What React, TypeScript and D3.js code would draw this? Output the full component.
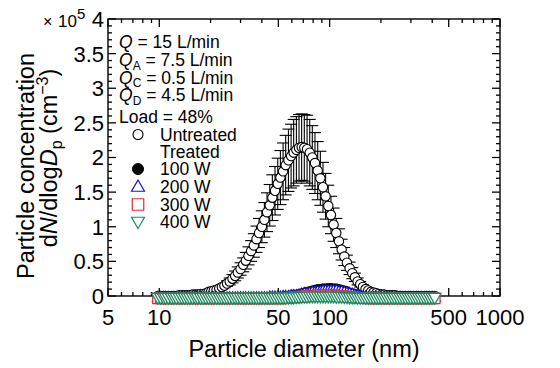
import React from "react";
import * as d3 from "d3";

// Particle diameters (nm), SMPS channels
const diameters = [
  9.82, 10.2, 10.6, 10.9, 11.3, 11.8, 12.2, 12.6, 13.1, 13.6, 14.1, 14.6, 15.1, 15.7, 16.3, 16.8, 17.5, 18.1, 18.8, 19.5,
  20.2, 20.9, 21.7, 22.5, 23.3, 24.1, 25.0, 25.9, 26.9, 27.9, 28.9, 30.0, 31.1, 32.2, 33.4, 34.6, 35.9, 37.2, 38.5, 40.0,
  41.4, 42.9, 44.5, 46.1, 47.8, 49.6, 51.4, 53.3, 55.2, 57.3, 59.4, 61.5, 63.8, 66.1, 68.5, 71.0, 73.7, 76.4, 79.1, 82.0,
  85.1, 88.2, 91.4, 94.7, 98.2, 101.8, 105.5, 109.4, 113.4, 117.6, 121.9, 126.3, 131.0, 135.8, 140.7, 145.9, 151.2, 156.8, 162.5, 168.5,
  174.7, 181.1, 187.7, 194.6, 201.7, 209.1, 216.7, 224.7, 232.9, 241.4, 250.3, 259.5, 269.0, 278.8, 289.0, 299.6, 310.6, 322.0, 333.8, 346.0,
  358.7, 371.8, 385.4, 399.5, 414.2,
];

// Concentrations in units of 1e5 cm^-3
const untreated = [
  0, 0, 0, 0, 0, 0, 0, 0, 0.01, 0.01, 0.01, 0.01, 0.01, 0.02, 0.02, 0.02, 0.03, 0.03, 0.04,
  0.06, 0.07, 0.08, 0.09, 0.11, 0.13, 0.15, 0.18, 0.21, 0.25, 0.29, 0.34, 0.39, 0.45, 0.51, 0.58, 0.65, 0.73, 0.82, 0.91,
  1.00, 1.10, 1.21, 1.31, 1.42, 1.52, 1.62, 1.71, 1.80, 1.89, 1.96, 2.02, 2.07, 2.11, 2.14, 2.15, 2.14, 2.12, 2.07, 2.00,
  1.92, 1.81, 1.70, 1.57, 1.44, 1.30, 1.17, 1.03, 0.91, 0.79, 0.67, 0.57, 0.48, 0.40, 0.33, 0.27, 0.21, 0.17, 0.13, 0.10,
  0.08, 0.06, 0.05, 0.04, 0.03,
  0.02, 0.02, 0.01, 0.01, 0.01, 0.01, 0, 0, 0, 0, 0, 0, 0, 0, 0, 0, 0, 0, 0, 0, 0,
];

const untreatedErr = [
  0, 0, 0, 0, 0, 0, 0, 0, 0, 0, 0, 0, 0, 0, 0, 0, 0, 0, 0,
  0.01, 0.02, 0.02, 0.02, 0.03, 0.03, 0.03, 0.04, 0.05, 0.06, 0.07, 0.08, 0.09, 0.10, 0.12, 0.13, 0.15, 0.17, 0.19, 0.21,
  0.23, 0.25, 0.28, 0.30, 0.33, 0.35, 0.37, 0.39, 0.41, 0.43, 0.45, 0.46, 0.48, 0.48, 0.48, 0.48, 0.48, 0.49, 0.48, 0.46,
  0.44, 0.42, 0.39, 0.36, 0.33, 0.30, 0.27, 0.24, 0.21, 0.18, 0.15, 0.13, 0.11, 0.09, 0.08, 0.06, 0.05, 0.04, 0.03, 0.02,
  0.02, 0.01, 0.01, 0.01, 0.01,
  0, 0, 0, 0, 0, 0, 0, 0, 0, 0, 0, 0, 0, 0, 0, 0, 0, 0, 0, 0, 0,
];

const treated100W = [
  -0.03, -0.03, -0.03, -0.03, -0.03, -0.03, -0.03, -0.03, -0.03, -0.03, -0.03, -0.03, -0.03, -0.03, -0.03, -0.03, -0.03, -0.03, -0.03, -0.03,
  -0.03, -0.03, -0.03, -0.03, -0.03, -0.03, -0.03, -0.03, -0.03, -0.03, -0.03, -0.03, -0.03, -0.03, -0.03, -0.03, -0.03, -0.03, -0.03, -0.03,
  -0.03, -0.03, -0.02, -0.02, -0.02, -0.02, -0.01, -0.01, 0, 0, 0.01, 0.02, 0.02, 0.03, 0.04, 0.05, 0.06, 0.07, 0.08, 0.09,
  0.10, 0.10, 0.11, 0.11, 0.115, 0.115, 0.11, 0.11, 0.10, 0.09, 0.08, 0.07, 0.05, 0.04, 0.03, 0.01, 0, -0.01, -0.015, -0.02,
  -0.025, -0.03, -0.03, -0.03, -0.03, -0.03, -0.03, -0.03, -0.03, -0.03, -0.03, -0.03, -0.03, -0.03, -0.03, -0.03, -0.03, -0.03, -0.03, -0.03,
  -0.03, -0.03, -0.03, -0.03, -0.03,
];

const treated200W = [
  -0.03, -0.03, -0.03, -0.03, -0.03, -0.03, -0.03, -0.03, -0.03, -0.03, -0.03, -0.03, -0.03, -0.03, -0.03, -0.03, -0.03, -0.03, -0.03, -0.03,
  -0.03, -0.03, -0.03, -0.03, -0.03, -0.03, -0.03, -0.03, -0.03, -0.03, -0.03, -0.03, -0.03, -0.03, -0.03, -0.03, -0.03, -0.03, -0.03, -0.03,
  -0.03, -0.03, -0.02, -0.02, -0.02, -0.02, -0.02, -0.01, -0.01, -0.01, 0, 0, 0, 0.01, 0.02, 0.03, 0.03, 0.04, 0.05, 0.05,
  0.06, 0.06, 0.07, 0.07, 0.07, 0.07, 0.07, 0.07, 0.06, 0.06, 0.05, 0.04, 0.03, 0.02, 0.01, 0, -0.01, -0.02, -0.02, -0.03,
  -0.03, -0.03, -0.03, -0.03, -0.03, -0.03, -0.03, -0.03, -0.03, -0.03, -0.03, -0.03, -0.03, -0.03, -0.03, -0.03, -0.03, -0.03, -0.03, -0.03,
  -0.03, -0.03, -0.03, -0.03, -0.03,
];

const treated300W = [
  -0.033, -0.033, -0.033, -0.033, -0.033, -0.033, -0.033, -0.033, -0.033, -0.033, -0.033, -0.033, -0.033, -0.033, -0.033, -0.033,
  -0.033, -0.033, -0.033, -0.033, -0.033, -0.033, -0.033, -0.033, -0.033, -0.033, -0.033, -0.033, -0.033, -0.033, -0.033, -0.033,
  -0.033, -0.033, -0.033, -0.033, -0.033, -0.033, -0.033, -0.033, -0.033, -0.033, -0.033, -0.033, -0.033, -0.033, -0.033, -0.033,
  -0.03, -0.03, -0.02, -0.02, -0.02, -0.01, -0.01, -0.01, 0, 0, 0, 0.005, 0.01, 0.01, 0.01, 0.01, 0.01, 0.01, 0.01, 0.005,
  0, 0, -0.01, -0.01, -0.015, -0.02, -0.02, -0.025, -0.03, -0.03, -0.03, -0.033,
  -0.033, -0.033, -0.033, -0.033, -0.033, -0.033, -0.033, -0.033, -0.033, -0.033, -0.033, -0.033, -0.033, -0.033, -0.033, -0.033,
  -0.033, -0.033, -0.033, -0.033, -0.033, -0.033, -0.033, -0.033, -0.033,
];

const treated400W = [
  -0.015, -0.015, -0.015, -0.015, -0.015, -0.015, -0.015, -0.015, -0.015, -0.015, -0.015, -0.015, -0.015, -0.015, -0.015, -0.015,
  -0.015, -0.015, -0.015, -0.015, -0.015, -0.015, -0.015, -0.015, -0.015, -0.015, -0.015, -0.015, -0.015, -0.015, -0.015, -0.015,
  -0.015, -0.015, -0.015, -0.015, -0.015, -0.015, -0.015, -0.015, -0.015, -0.015, -0.015, -0.015, -0.015, -0.015, -0.015, -0.015,
  -0.015, -0.01, -0.01, -0.01, -0.005, -0.005, 0, 0, 0, 0.005, 0.005, 0.005, 0.005, 0.005, 0.005, 0.005, 0.005, 0.005, 0.005, 0,
  0, 0, -0.005, -0.005, -0.01, -0.01, -0.01, -0.015, -0.015, -0.015, -0.015, -0.015,
  -0.015, -0.015, -0.015, -0.015, -0.015, -0.015, -0.015, -0.015, -0.015, -0.015, -0.015, -0.015, -0.015, -0.015, -0.015, -0.015,
  -0.015, -0.015, -0.015, -0.015, -0.015, -0.015, -0.015, -0.015, -0.015,
];

const xTickValues = [5, 10, 50, 100, 500, 1000];
const xTickLabels = ["5", "10", "50", "100", "500", "1000"];
const xMinorValues = [6, 7, 8, 9, 20, 30, 40, 60, 70, 80, 90, 200, 300, 400, 600, 700, 800, 900];
const yTickValues = [0, 0.5, 1, 1.5, 2, 2.5, 3, 3.5, 4];
const yTickLabels = ["0", "0.5", "1", "1.5", "2", "2.5", "3", "3.5", "4"];

const legendLabels = ["Untreated", "Treated", "100 W", "200 W", "300 W", "400 W"];
const COLORS = { w100: "#000000", w200: "#1414d2", w300: "#e0283c", w400: "#1e8a60" };

const FONT = "'Liberation Sans', Arial, Helvetica, sans-serif";

const W = 560;
const H = 368;
const L = 108, R = 500, T = 19, B = 296;

function circlePath(cx: number, cy: number, r: number) {
  const p = d3.path();
  p.arc(cx, cy, r, 0, Math.PI * 2);
  p.closePath();
  return p.toString();
}
function triUp(cx: number, cy: number, s: number) {
  const h = (s * Math.sqrt(3)) / 2;
  const p = d3.path();
  p.moveTo(cx, cy - (2 * h) / 3);
  p.lineTo(cx + s / 2, cy + h / 3);
  p.lineTo(cx - s / 2, cy + h / 3);
  p.closePath();
  return p.toString();
}
function triDown(cx: number, cy: number, s: number) {
  const h = (s * Math.sqrt(3)) / 2;
  const p = d3.path();
  p.moveTo(cx, cy + (2 * h) / 3);
  p.lineTo(cx + s / 2, cy - h / 3);
  p.lineTo(cx - s / 2, cy - h / 3);
  p.closePath();
  return p.toString();
}
function squarePath(cx: number, cy: number, s: number) {
  const p = d3.path();
  p.rect(cx - s / 2, cy - s / 2, s, s);
  return p.toString();
}

export default function App() {
  const x = d3.scaleLog().domain([5, 1000]).range([L, R]);
  const y = d3.scaleLinear().domain([0, 4]).range([B, T]);
  const yMinor = d3.range(0, 41).map((k) => k / 10).filter((v) => Math.abs(v * 2 - Math.round(v * 2)) > 1e-6);

  const majorLen = 8;
  const minorLen = 4;
  const capHalf = 6;

  const legendX = 138;
  const legendTextX = 160;
  const legendY = [134.5, 151.5, 169, 186.5, 204.5, 222];

  return (
    <svg width={W} height={H} style={{ position: "absolute", left: 0, top: 0, background: "#fff" }} fontFamily={FONT}>
      <rect x={0} y={0} width={W} height={H} fill="#fff" />
      {/* ticks */}
      <g stroke="#000" strokeWidth={1.3}>
        {yTickValues.map((v, i) => (
          <g key={"yt" + i}>
            <line x1={L} x2={L + majorLen} y1={y(v)} y2={y(v)} />
            <line x1={R} x2={R - majorLen} y1={y(v)} y2={y(v)} />
          </g>
        ))}
        {yMinor.map((v, i) => (
          <g key={"ym" + i}>
            <line x1={L} x2={L + minorLen} y1={y(v)} y2={y(v)} />
            <line x1={R} x2={R - minorLen} y1={y(v)} y2={y(v)} />
          </g>
        ))}
        {xTickValues.map((v, i) => (
          <g key={"xt" + i}>
            <line x1={x(v)} x2={x(v)} y1={B} y2={B - majorLen} />
            <line x1={x(v)} x2={x(v)} y1={T} y2={T + majorLen} />
          </g>
        ))}
        {xMinorValues.map((v, i) => (
          <g key={"xm" + i}>
            <line x1={x(v)} x2={x(v)} y1={B} y2={B - minorLen} />
            <line x1={x(v)} x2={x(v)} y1={T} y2={T + minorLen} />
          </g>
        ))}
      </g>
      <rect x={L} y={T} width={R - L} height={B - T} fill="none" stroke="#000" strokeWidth={1.4} />

      {/* tick labels */}
      <g fontSize={22} fill="#000">
        {yTickValues.map((v, i) => (
          <text key={"yl" + i} x={L - 4} y={y(v)} dy="0.36em" textAnchor="end">
            {yTickLabels[i]}
          </text>
        ))}
        {xTickValues.map((v, i) => (
          <text key={"xl" + i} x={x(v)} y={B + 29} textAnchor="middle">
            {xTickLabels[i]}
          </text>
        ))}
      </g>
      <text x={43} y={27} fontSize={16}>
        ×
      </text>
      <text x={58} y={27} fontSize={17}>
        10<tspan dy={-8} fontSize={15}>5</tspan>
      </text>

      {/* error bars */}
      <g stroke="#000" strokeWidth={1.1}>
        {diameters.map((d, i) =>
          untreatedErr[i] > 0 ? (
            <g key={"eb" + i}>
              <line x1={x(d)} x2={x(d)} y1={y(untreated[i] - untreatedErr[i])} y2={y(untreated[i] + untreatedErr[i])} />
              <line x1={x(d) - capHalf} x2={x(d) + capHalf} y1={y(untreated[i] + untreatedErr[i])} y2={y(untreated[i] + untreatedErr[i])} />
              <line x1={x(d) - capHalf} x2={x(d) + capHalf} y1={y(untreated[i] - untreatedErr[i])} y2={y(untreated[i] - untreatedErr[i])} />
            </g>
          ) : null
        )}
      </g>
      {/* untreated */}
      <g stroke="#000" strokeWidth={1.1} fill="#fff">
        {diameters.map((d, i) => (
          <path key={"u" + i} d={circlePath(x(d), y(untreated[i]), 4.7)} />
        ))}
      </g>
      {/* 100 W */}
      <g stroke={COLORS.w100} strokeWidth={1} fill={COLORS.w100}>
        {diameters.map((d, i) => (
          <path key={"a" + i} d={circlePath(x(d), y(treated100W[i]), 4.5)} />
        ))}
      </g>
      {/* 200 W */}
      <g stroke={COLORS.w200} strokeWidth={1.2} fill="#fff">
        {diameters.map((d, i) => (
          <path key={"b" + i} d={triUp(x(d), y(treated200W[i]), 11)} />
        ))}
      </g>
      {/* 300 W */}
      <g stroke={COLORS.w300} strokeWidth={1.2} fill="#fff">
        {diameters.map((d, i) => (
          <path key={"c" + i} d={squarePath(x(d), y(treated300W[i]), 10.5)} />
        ))}
      </g>
      {/* 400 W */}
      <g stroke={COLORS.w400} strokeWidth={1.3} fill="#fff">
        {diameters.map((d, i) => (
          <path key={"e" + i} d={triDown(x(d), y(treated400W[i]), 12.5)} />
        ))}
      </g>

      {/* annotation */}
      <g fontSize={17.5} fill="#000">
        <text x={119} y={48}>
          <tspan fontStyle="italic">Q</tspan> = 15 L/min
        </text>
        <text x={119} y={66}>
          <tspan fontStyle="italic">Q</tspan>
          <tspan dy={3.5} fontSize={12}>A</tspan>
          <tspan dy={-3.5}> = 7.5 L/min</tspan>
        </text>
        <text x={119} y={83.5}>
          <tspan fontStyle="italic">Q</tspan>
          <tspan dy={3.5} fontSize={12}>C</tspan>
          <tspan dy={-3.5}> = 0.5 L/min</tspan>
        </text>
        <text x={119} y={101}>
          <tspan fontStyle="italic">Q</tspan>
          <tspan dy={3.5} fontSize={12}>D</tspan>
          <tspan dy={-3.5}> = 4.5 L/min</tspan>
        </text>
        <text x={119} y={123}>Load = 48%</text>
        {legendLabels.map((lab, i) => (
          <text key={"lg" + i} x={legendTextX} y={legendY[i] + 6.3}>
            {lab}
          </text>
        ))}
      </g>
      <path d={circlePath(legendX, legendY[0], 5)} fill="#fff" stroke="#000" strokeWidth={1.1} />
      <path d={circlePath(legendX, legendY[2], 5.5)} fill="#000" stroke="#000" strokeWidth={1} />
      <path d={triUp(legendX, legendY[3] + 1, 13)} fill="#fff" stroke={COLORS.w200} strokeWidth={1.2} />
      <path d={squarePath(legendX, legendY[4], 11.5)} fill="#fff" stroke={COLORS.w300} strokeWidth={1.2} />
      <path d={triDown(legendX, legendY[5] - 1, 13)} fill="#fff" stroke={COLORS.w400} strokeWidth={1.2} />

      {/* axis titles */}
      <text x={(L + R) / 2} y={357} fontSize={23.5} textAnchor="middle">
        Particle diameter (nm)
      </text>
      <text transform="translate(34,166) rotate(-90)" fontSize={23.5} textAnchor="middle">
        Particle concentration
      </text>
      <text transform="translate(57,158) rotate(-90)" fontSize={23.5} textAnchor="middle">
        d<tspan fontStyle="italic">N</tspan>/dlog<tspan fontStyle="italic">D</tspan>
        <tspan dy={5} fontSize={16}>p</tspan>
        <tspan dy={-5}> (cm</tspan>
        <tspan dy={-9} fontSize={16}>−3</tspan>
        <tspan dy={9}>)</tspan>
      </text>
    </svg>
  );
}
